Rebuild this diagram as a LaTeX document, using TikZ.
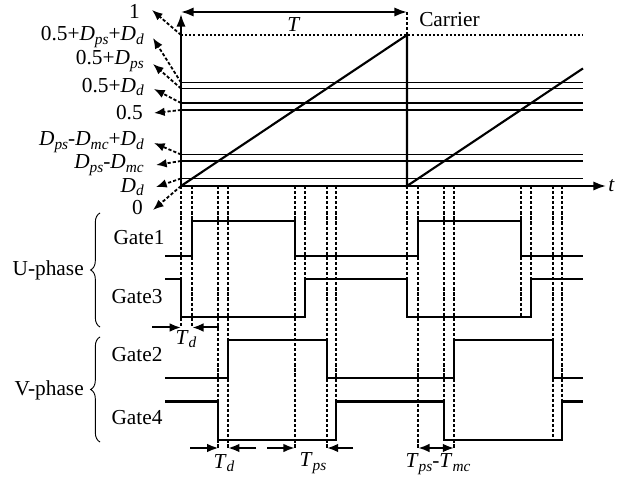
\documentclass[tikz,border=0pt]{standalone}
\usepackage{fontspec}
\setmainfont{Liberation Serif}
\usetikzlibrary{arrows.meta,decorations.pathreplacing}
\newcommand\Vsb[2]{\textit{#1}\raisebox{-0.35ex}{\fontsize{11.5}{11.5}\selectfont\textit{#2}}}
\begin{document}
\begin{tikzpicture}[x=0.75pt,y=-0.75pt,
  font=\fontsize{16}{18}\selectfont,
  wave/.style={line width=1.6pt},
  levelln/.style={line width=1.45pt},
  dashln/.style={line width=1.4pt,dash pattern=on 2.4pt off 1.4pt},
  dotln/.style={line width=1.2pt,dash pattern=on 1.5pt off 1.6pt},
  lblarrow/.style={line width=1.35pt,dash pattern=on 2.4pt off 1.5pt,-{Latex[length=8pt,width=6.5pt]}},
  bigarrow/.style={line width=1.5pt,-{Latex[length=9.5pt,width=7pt]}},
  dimarrow/.style={line width=1.5pt,-{Latex[length=8.5pt,width=6.5pt]}},
  lbl/.style={anchor=east,inner sep=0pt},
  brc/.style={line width=0.7pt,decorate,decoration={brace,amplitude=7pt}}
]
\useasboundingbox (0,0) rectangle (622,481);

% axes
\coordinate (O) at (181,186);
\coordinate (Ytop) at (181,14);
\coordinate (Tend) at (606,186);
\draw[bigarrow] (O) -- (Ytop);
\draw[bigarrow] (O) -- (Tend);
\node[anchor=west,inner sep=0pt] (tlab) at (608,186) {\textit{t}};

% period arrow
\coordinate (Pa) at (181,12);
\coordinate (Pb) at (407,12);
\draw[line width=1.5pt,{Latex[length=9.5pt,width=7pt]}-{Latex[length=9.5pt,width=7pt]}] (Pa) -- (Pb);
\node (Tlab) at (294,25) {\textit{T}};
\node[anchor=west,inner sep=0pt] (carr) at (419,20) {Carrier};

% dotted level 1
\draw[dotln] (181,35) -- (583,35);

% level lines
\foreach \yy in {82.5,88.5,103,110,154.5,161,178.5}
  \draw[levelln] (181,\yy) -- (583,\yy);

% carrier ramps
\draw[wave] (O) -- (407,35) -- (407,186) -- (583,68.4);

% dashed verticals
\foreach \xx/\ya/\yb in {181/186/327.5, 192.2/186/327.5, 218.4/186/448, 228.1/186/448,
  294.7/186/448, 305.2/186/317, 326.9/186/448, 335.9/186/440,
  407/12/35, 407/186/317, 418.2/186/448, 444.4/186/440, 454.1/186/448,
  520.7/186/317, 531.2/186/317, 552.9/186/440, 561.9/186/440}
  \draw[dashln] (\xx,\ya) -- (\xx,\yb);

% gate waveforms
\draw[wave] (165,256) -- (192.2,256) -- (192.2,221) -- (294.7,221) -- (294.7,256) -- (418.2,256) -- (418.2,221) -- (520.7,221) -- (520.7,256) -- (583,256);
\draw[wave] (165,279) -- (181,279) -- (181,317) -- (305.2,317) -- (305.2,279) -- (407,279) -- (407,317) -- (531.2,317) -- (531.2,279) -- (583,279);
\draw[wave] (165,378) -- (228.1,378) -- (228.1,340) -- (326.9,340) -- (326.9,378) -- (454.1,378) -- (454.1,340) -- (552.9,340) -- (552.9,378) -- (583,378);
\draw[wave] (165,401.5) -- (218.4,401.5) -- (218.4,440) -- (335.9,440) -- (335.9,401.5) -- (444.4,401.5) -- (444.4,440) -- (561.9,440) -- (561.9,401.5) -- (583,401.5);

% left level labels
\node[lbl] (l1) at (140,11) {1};
\node[lbl] (l2) at (144,37) {0.5+\Vsb{D}{ps}+\Vsb{D}{d}};
\node[lbl] (l3) at (144,61) {0.5+\Vsb{D}{ps}};
\node[lbl] (l4) at (144,87) {0.5+\Vsb{D}{d}};
\node[lbl] (l5) at (143,113) {0.5};
\node[lbl] (l6) at (144,142) {\Vsb{D}{ps}-\Vsb{D}{mc}+\Vsb{D}{d}};
\node[lbl] (l7) at (144,165) {\Vsb{D}{ps}-\Vsb{D}{mc}};
\node[lbl] (l8) at (144,187) {\Vsb{D}{d}};
\node[lbl] (l9) at (143,208) {0};

\draw[lblarrow] (181,35) -- (152,10);
\draw[lblarrow] (181,82.5) -- (153,38);
\draw[lblarrow] (181,88.5) -- (153,64);
\draw[lblarrow] (181,103) -- (154,89);
\draw[lblarrow] (181,110) -- (154,113);
\draw[lblarrow] (181,154.5) -- (154,143);
\draw[lblarrow] (181,161) -- (156,165);
\draw[lblarrow] (181,178.5) -- (156,187);
\draw[lblarrow] (181,186) -- (153,210);

% gate labels
\node (g1) at (139,238) {Gate1};
\node (g3) at (137,297) {Gate3};
\node (g2) at (137,355) {Gate2};
\node (g4) at (137,418) {Gate4};

% braces
\draw[brc] (100,327) -- (100,213);
\draw[brc] (100,442) -- (100,337);
\node[lbl] (up) at (84,270) {U-phase};
\node[lbl] (vp) at (84,390) {V-phase};

% dimension arrows
\draw[dimarrow] (152,327.5) -- (181,327.5);
\draw[dimarrow] (219,327.5) -- (192.2,327.5);
\node (td1) at (186,339) {\Vsb{T}{d}};
\draw[dimarrow] (190,448) -- (218.4,448);
\draw[dimarrow] (256,448) -- (228.1,448);
\node (td2) at (224,463) {\Vsb{T}{d}};
\draw[dimarrow] (267,448) -- (294.7,448);
\draw[dimarrow] (353,448) -- (326.9,448);
\node (tps) at (313,463) {\Vsb{T}{ps}};
\draw[line width=1.5pt,{Latex[length=8.5pt,width=6.5pt]}-{Latex[length=8.5pt,width=6.5pt]}] (418.2,448) -- (454.1,448);
\node (tpm) at (438,464) {\Vsb{T}{ps}-\Vsb{T}{mc}};
\end{tikzpicture}
\end{document}
